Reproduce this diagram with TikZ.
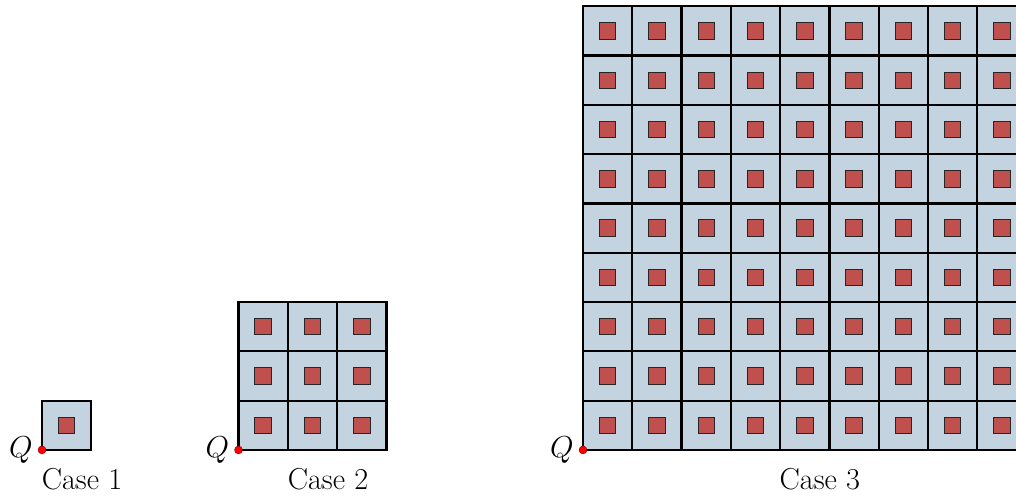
\documentclass[tikz,border=0pt]{standalone}
\usepackage{fix-cm}
\definecolor{cellblue}{RGB}{196,211,224}
\definecolor{corered}{RGB}{192,80,77}
\tikzset{
  cellbox/.style={fill=cellblue,draw=black,line width=1.3pt},
  corebox/.style={fill=corered,draw=black!85,line width=0.5pt},
  qdot/.style={circle,fill=red,draw=red!55!black,inner sep=0pt,minimum size=0.16cm,line width=0.3pt},
  qlabel/.style={anchor=east,inner sep=1.5pt,font=\fontsize{17.5}{20}\selectfont},
  caselabel/.style={anchor=base,font=\fontsize{17.5}{20}\selectfont}
}
\begin{document}
\begin{tikzpicture}
\useasboundingbox (0,0) rectangle (20.61,10.06);
\foreach \ox/\n/\k in {0.852/1/1, 4.838/3/2, 11.826/9/3} {
  \begin{scope}[shift={(\ox,0.933)}]
    \foreach \i in {1,...,\n} {
      \foreach \j in {1,...,\n} {
        \draw[cellbox] (\i-1,\j-1) rectangle (\i,\j);
        \draw[corebox] (\i-2/3,\j-2/3) rectangle (\i-1/3,\j-1/3);
      }
    }
    \node[qlabel] (Q\k) at (-0.13,0.0) {$Q$};
    \node[qdot] (q\k) at (0,0) {};
  \end{scope}
}
\node[caselabel] (c1) at (1.663,0.122) {Case 1};
\node[caselabel] (c2) at (6.653,0.122) {Case 2};
\node[caselabel] (c3) at (16.63,0.122) {Case 3};
\end{tikzpicture}
\end{document}
